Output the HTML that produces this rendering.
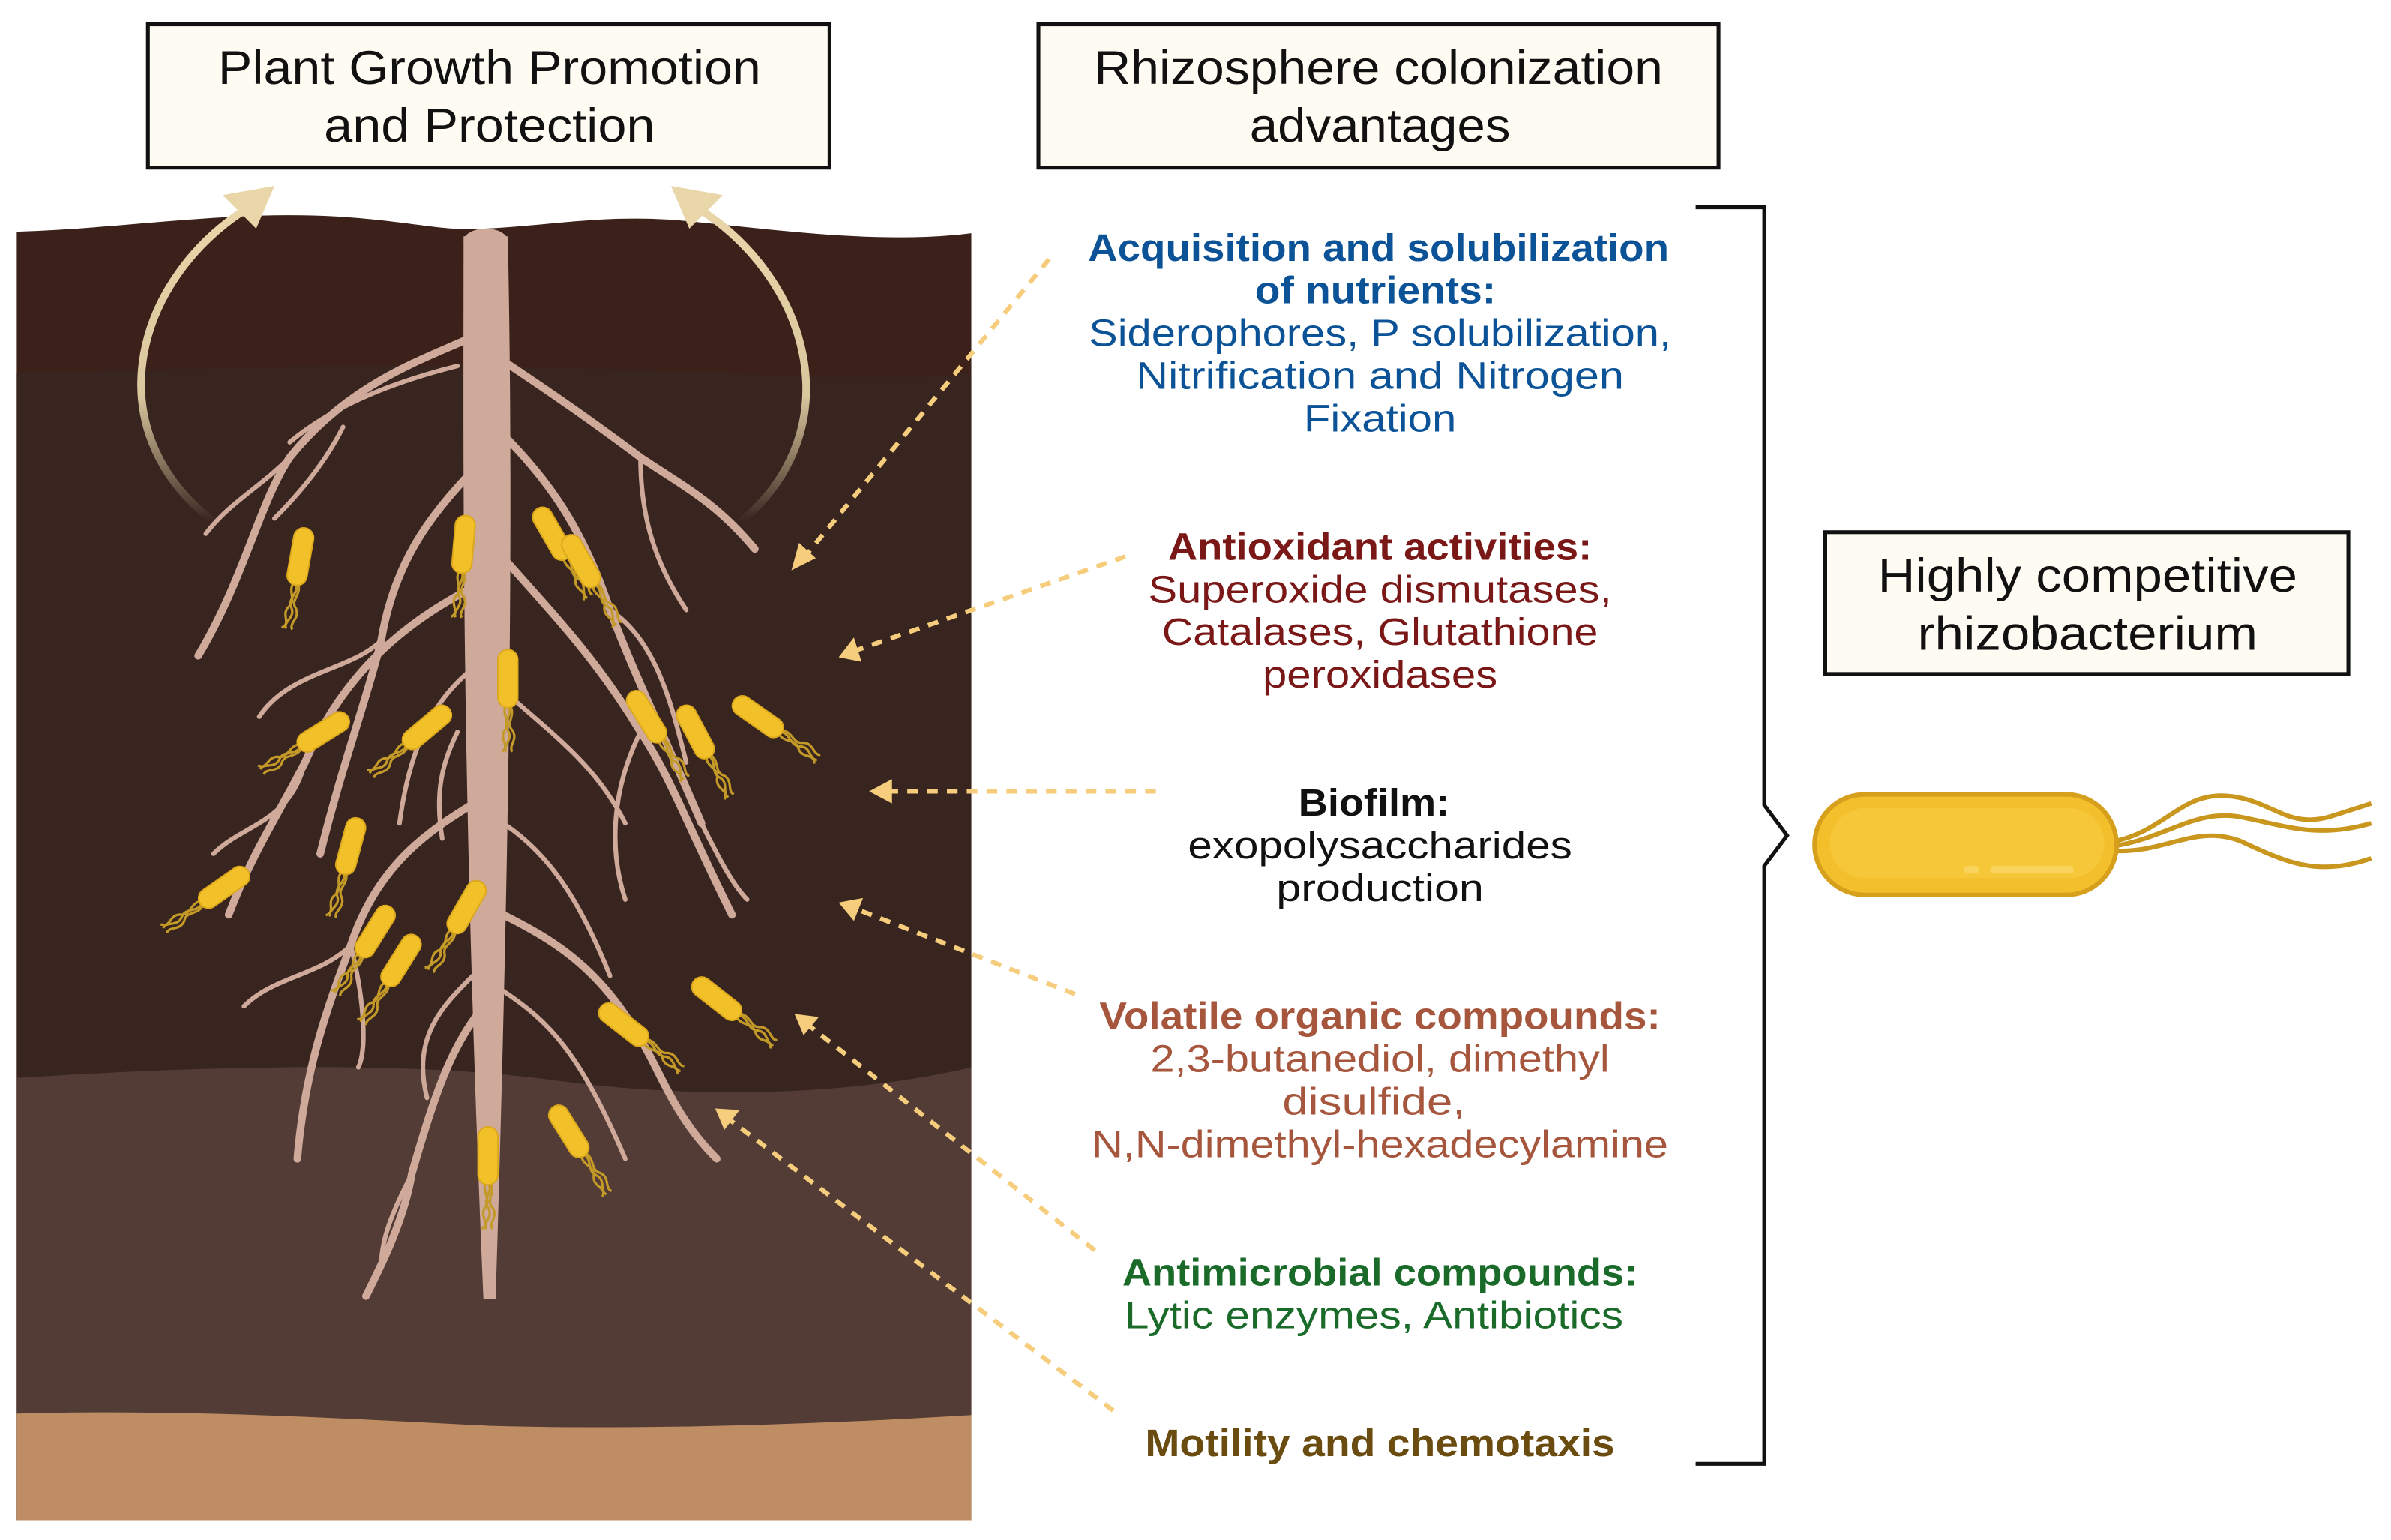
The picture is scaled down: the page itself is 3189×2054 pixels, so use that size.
<!DOCTYPE html>
<html><head><meta charset="utf-8"><style>
html,body{margin:0;padding:0;background:#fff;}
svg{display:block;}
text{font-family:"Liberation Sans",sans-serif;}
</style></head><body>
<svg width="3189" height="2054" viewBox="0 0 1568 1010" preserveAspectRatio="none" xmlns="http://www.w3.org/2000/svg">
<defs>
<linearGradient id="ga" x1="0" y1="0" x2="0" y2="1">
<stop offset="0" stop-color="#e9d6a9"/><stop offset="0.6" stop-color="#d9c79e"/><stop offset="1" stop-color="#e9d6a9" stop-opacity="0"/>
</linearGradient>
<g id="bac">
<path d="M17,0 C24,-4 28,4 34,0 C40,-4 44,4 48,1 M17,1 C24,5 28,-3 34,2 C40,6 44,-2 48,4 M17,-1 C24,-6 29,2 34,-3 C40,-7 44,0 48,-3" fill="none" stroke="#c39a28" stroke-width="1.6"/>
<rect x="-19" y="-6.5" width="38" height="13" rx="6.5" fill="#f2c12a" stroke="#dca81c" stroke-width="1"/>
</g>
</defs>
<path d="M11,152 C80,150 150,138 220,142 C270,145 290,152 318,150 C360,148 400,140 450,145 C520,152 580,160 637,153 L637,997 L11,997 Z" fill="#3b2119"/>
<path d="M11,245 C150,240 300,238 400,242 C500,246 580,250 637,245 L637,997 L11,997 Z" fill="#382520"/>
<path d="M11,707 C120,700 260,695 360,708 C460,722 560,718 637,700 L637,997 L11,997 Z" fill="#533c36"/>
<path d="M11,927 C120,924 220,930 320,935 C420,938 540,934 637,928 L637,997 L11,997 Z" fill="#bf8d64"/>
<path d="M140,342 C60,280 90,180 165,135" fill="none" stroke="url(#ga)" stroke-width="5"/>
<polygon points="180,122 146,128 168,150" fill="#e9d6a9"/>
<path d="M486,342 C560,280 530,180 455,135" fill="none" stroke="url(#ga)" stroke-width="5"/>
<polygon points="440,122 474,128 452,150" fill="#e9d6a9"/>
<g fill="none" stroke="#cfa999" stroke-linecap="round">
<g stroke-width="5">
<path d="M312,220 C280,235 230,250 190,300 C170,330 160,380 130,430"/>
<path d="M318,300 C290,330 260,360 250,420 C240,460 225,500 210,560"/>
<path d="M320,380 C280,400 230,430 200,500 C185,530 165,560 150,600"/>
<path d="M322,520 C290,540 250,560 230,620 C215,660 200,700 195,760"/>
<path d="M325,650 C300,680 290,700 270,770 C265,800 250,830 240,850"/>
<path d="M320,230 C350,250 380,270 420,300 C450,320 470,330 495,360"/>
<path d="M325,280 C355,310 380,340 400,400 C415,440 430,470 460,540"/>
<path d="M325,360 C360,400 390,430 420,480 C440,510 450,540 480,600"/>
<path d="M330,600 C370,620 400,640 430,700 C440,720 450,740 470,760"/>
</g>
<g stroke-width="3">
<path d="M300,240 C260,250 220,265 190,290"/>
<path d="M322,430 C290,450 270,480 262,540"/>
<path d="M200,500 C190,540 160,540 140,560"/>
<path d="M190,300 C170,320 150,330 135,350"/>
<path d="M250,420 C230,440 190,440 170,470"/>
<path d="M230,620 C210,640 180,640 160,660"/>
<path d="M270,770 C260,790 250,810 250,830"/>
<path d="M327,450 C360,480 390,500 410,540"/>
<path d="M330,540 C360,560 380,590 400,640"/>
<path d="M330,650 C360,670 380,690 410,760"/>
<path d="M400,400 C430,420 440,460 450,500"/>
<path d="M420,480 C400,520 400,560 410,590"/>
<path d="M420,300 C420,340 430,370 450,400"/>
<path d="M460,540 C470,560 480,580 490,590"/>
<path d="M300,480 C290,500 285,520 290,550"/>
<path d="M310,640 C290,660 270,680 280,720"/>
<path d="M225,280 C215,300 200,320 180,340"/>
<path d="M230,620 C240,660 240,690 235,700"/>
</g>
</g>
<path d="M304,155 C304,300 302,500 317,852 L325,852 C336,500 336,300 333,155 Z" fill="#cfa999"/>
<ellipse cx="318.5" cy="158" rx="14.5" ry="8" fill="#cfa999"/>
<use href="#bac" transform="translate(197,365) rotate(100)"/>
<use href="#bac" transform="translate(304,357) rotate(95)"/>
<use href="#bac" transform="translate(362,350) rotate(60)"/>
<use href="#bac" transform="translate(381,368) rotate(60)"/>
<use href="#bac" transform="translate(333,445) rotate(90)"/>
<use href="#bac" transform="translate(212,480) rotate(148)"/>
<use href="#bac" transform="translate(280,477) rotate(140)"/>
<use href="#bac" transform="translate(424,470) rotate(58)"/>
<use href="#bac" transform="translate(456,480) rotate(62)"/>
<use href="#bac" transform="translate(497,470) rotate(35)"/>
<use href="#bac" transform="translate(230,555) rotate(105)"/>
<use href="#bac" transform="translate(147,582) rotate(145)"/>
<use href="#bac" transform="translate(246,611) rotate(122)"/>
<use href="#bac" transform="translate(263,630) rotate(122)"/>
<use href="#bac" transform="translate(306,595) rotate(120)"/>
<use href="#bac" transform="translate(409,672) rotate(38)"/>
<use href="#bac" transform="translate(470,655) rotate(38)"/>
<use href="#bac" transform="translate(320,758) rotate(90)"/>
<use href="#bac" transform="translate(373,742) rotate(58)"/>
<g stroke="#f5cd7c" stroke-width="3" stroke-dasharray="7,6" fill="none">
<line x1="688" y1="170" x2="527" y2="366"/>
<line x1="738" y1="365" x2="560" y2="427"/>
<line x1="758" y1="519" x2="582" y2="519"/>
<line x1="705" y1="652" x2="561" y2="596"/>
<line x1="718" y1="820" x2="531" y2="673"/>
<line x1="730" y1="925" x2="478" y2="734"/>
</g>
<g fill="#f5cd7c">
<polygon points="519,374 524,356 535,366"/>
<polygon points="550,431 560,418 565,434"/>
<polygon points="570,519 585,511 585,527"/>
<polygon points="550,592 566,589 560,604"/>
<polygon points="521,665 537,667 527,679"/>
<polygon points="469,727 485,728 475,741"/>
</g>
<rect x="97" y="16" width="447" height="94" fill="#fdfbf2" stroke="#111" stroke-width="2.5"/>
<rect x="681" y="16" width="446" height="94" fill="#fdfbf2" stroke="#111" stroke-width="2.5"/>
<rect x="1197" y="349" width="343" height="93" fill="#fdfbf2" stroke="#111" stroke-width="2.5"/>
<g font-size="31" text-anchor="middle" fill="#111">
<text x="321" y="55" textLength="356" lengthAdjust="spacingAndGlyphs">Plant Growth Promotion</text>
<text x="321" y="93" textLength="217" lengthAdjust="spacingAndGlyphs">and Protection</text>
<text x="904" y="55" textLength="373" lengthAdjust="spacingAndGlyphs">Rhizosphere colonization</text>
<text x="905" y="93" textLength="171" lengthAdjust="spacingAndGlyphs">advantages</text>
<text x="1369" y="388" textLength="275" lengthAdjust="spacingAndGlyphs">Highly competitive</text>
<text x="1369" y="426" textLength="223" lengthAdjust="spacingAndGlyphs">rhizobacterium</text>
</g>
<g font-size="25" text-anchor="middle">
<g fill="#0b5396">
<text x="904" y="171" font-weight="bold" textLength="381" lengthAdjust="spacingAndGlyphs">Acquisition and solubilization</text>
<text x="902" y="199" font-weight="bold" textLength="158" lengthAdjust="spacingAndGlyphs">of nutrients:</text>
<text x="905" y="227" textLength="382" lengthAdjust="spacingAndGlyphs">Siderophores, P solubilization,</text>
<text x="905" y="255" textLength="320" lengthAdjust="spacingAndGlyphs">Nitrification and Nitrogen</text>
<text x="905" y="283" textLength="100" lengthAdjust="spacingAndGlyphs">Fixation</text>
</g>
<g fill="#7a1717">
<text x="905" y="367" font-weight="bold" textLength="278" lengthAdjust="spacingAndGlyphs">Antioxidant activities:</text>
<text x="905" y="395" textLength="304" lengthAdjust="spacingAndGlyphs">Superoxide dismutases,</text>
<text x="905" y="423" textLength="286" lengthAdjust="spacingAndGlyphs">Catalases, Glutathione</text>
<text x="905" y="451" textLength="154" lengthAdjust="spacingAndGlyphs">peroxidases</text>
</g>
<g fill="#111">
<text x="901" y="535" font-weight="bold" textLength="99" lengthAdjust="spacingAndGlyphs">Biofilm:</text>
<text x="905" y="563" textLength="252" lengthAdjust="spacingAndGlyphs">exopolysaccharides</text>
<text x="905" y="591" textLength="136" lengthAdjust="spacingAndGlyphs">production</text>
</g>
<g fill="#a6563c">
<text x="905" y="675" font-weight="bold" textLength="368" lengthAdjust="spacingAndGlyphs">Volatile organic compounds:</text>
<text x="905" y="703" textLength="301" lengthAdjust="spacingAndGlyphs">2,3-butanediol, dimethyl</text>
<text x="901" y="731" textLength="120" lengthAdjust="spacingAndGlyphs">disulfide,</text>
<text x="905" y="759" textLength="378" lengthAdjust="spacingAndGlyphs">N,N-dimethyl-hexadecylamine</text>
</g>
<g fill="#1a6a2a">
<text x="905" y="843" font-weight="bold" textLength="338" lengthAdjust="spacingAndGlyphs">Antimicrobial compounds:</text>
<text x="901" y="871" textLength="327" lengthAdjust="spacingAndGlyphs">Lytic enzymes, Antibiotics</text>
</g>
<text x="905" y="955" fill="#6a4b10" font-weight="bold" textLength="308" lengthAdjust="spacingAndGlyphs">Motility and chemotaxis</text>
</g>
<path d="M1112,136 L1157,136 L1157,528 L1172,548 L1157,568 L1157,960 L1112,960" fill="none" stroke="#111" stroke-width="2.5"/>
<path d="M1386,552 C1420,545 1430,520 1460,522 C1490,524 1500,545 1530,535 L1555,527 M1386,555 C1420,550 1440,530 1470,536 C1500,542 1520,550 1555,540 M1386,558 C1420,560 1440,540 1470,552 C1500,566 1520,575 1555,563" fill="none" stroke="#c9961e" stroke-width="3"/>
<rect x="1190" y="521" width="198" height="66" rx="33" fill="#f3bf2a" stroke="#d6a01c" stroke-width="3"/>
<rect x="1200" y="530" width="180" height="46" rx="23" fill="#f7c73a"/>
<rect x="1288" y="568" width="10" height="5" rx="2.5" fill="#fad35c"/>
<rect x="1305" y="568" width="55" height="5" rx="2.5" fill="#fad35c"/>
</svg>
</body></html>
